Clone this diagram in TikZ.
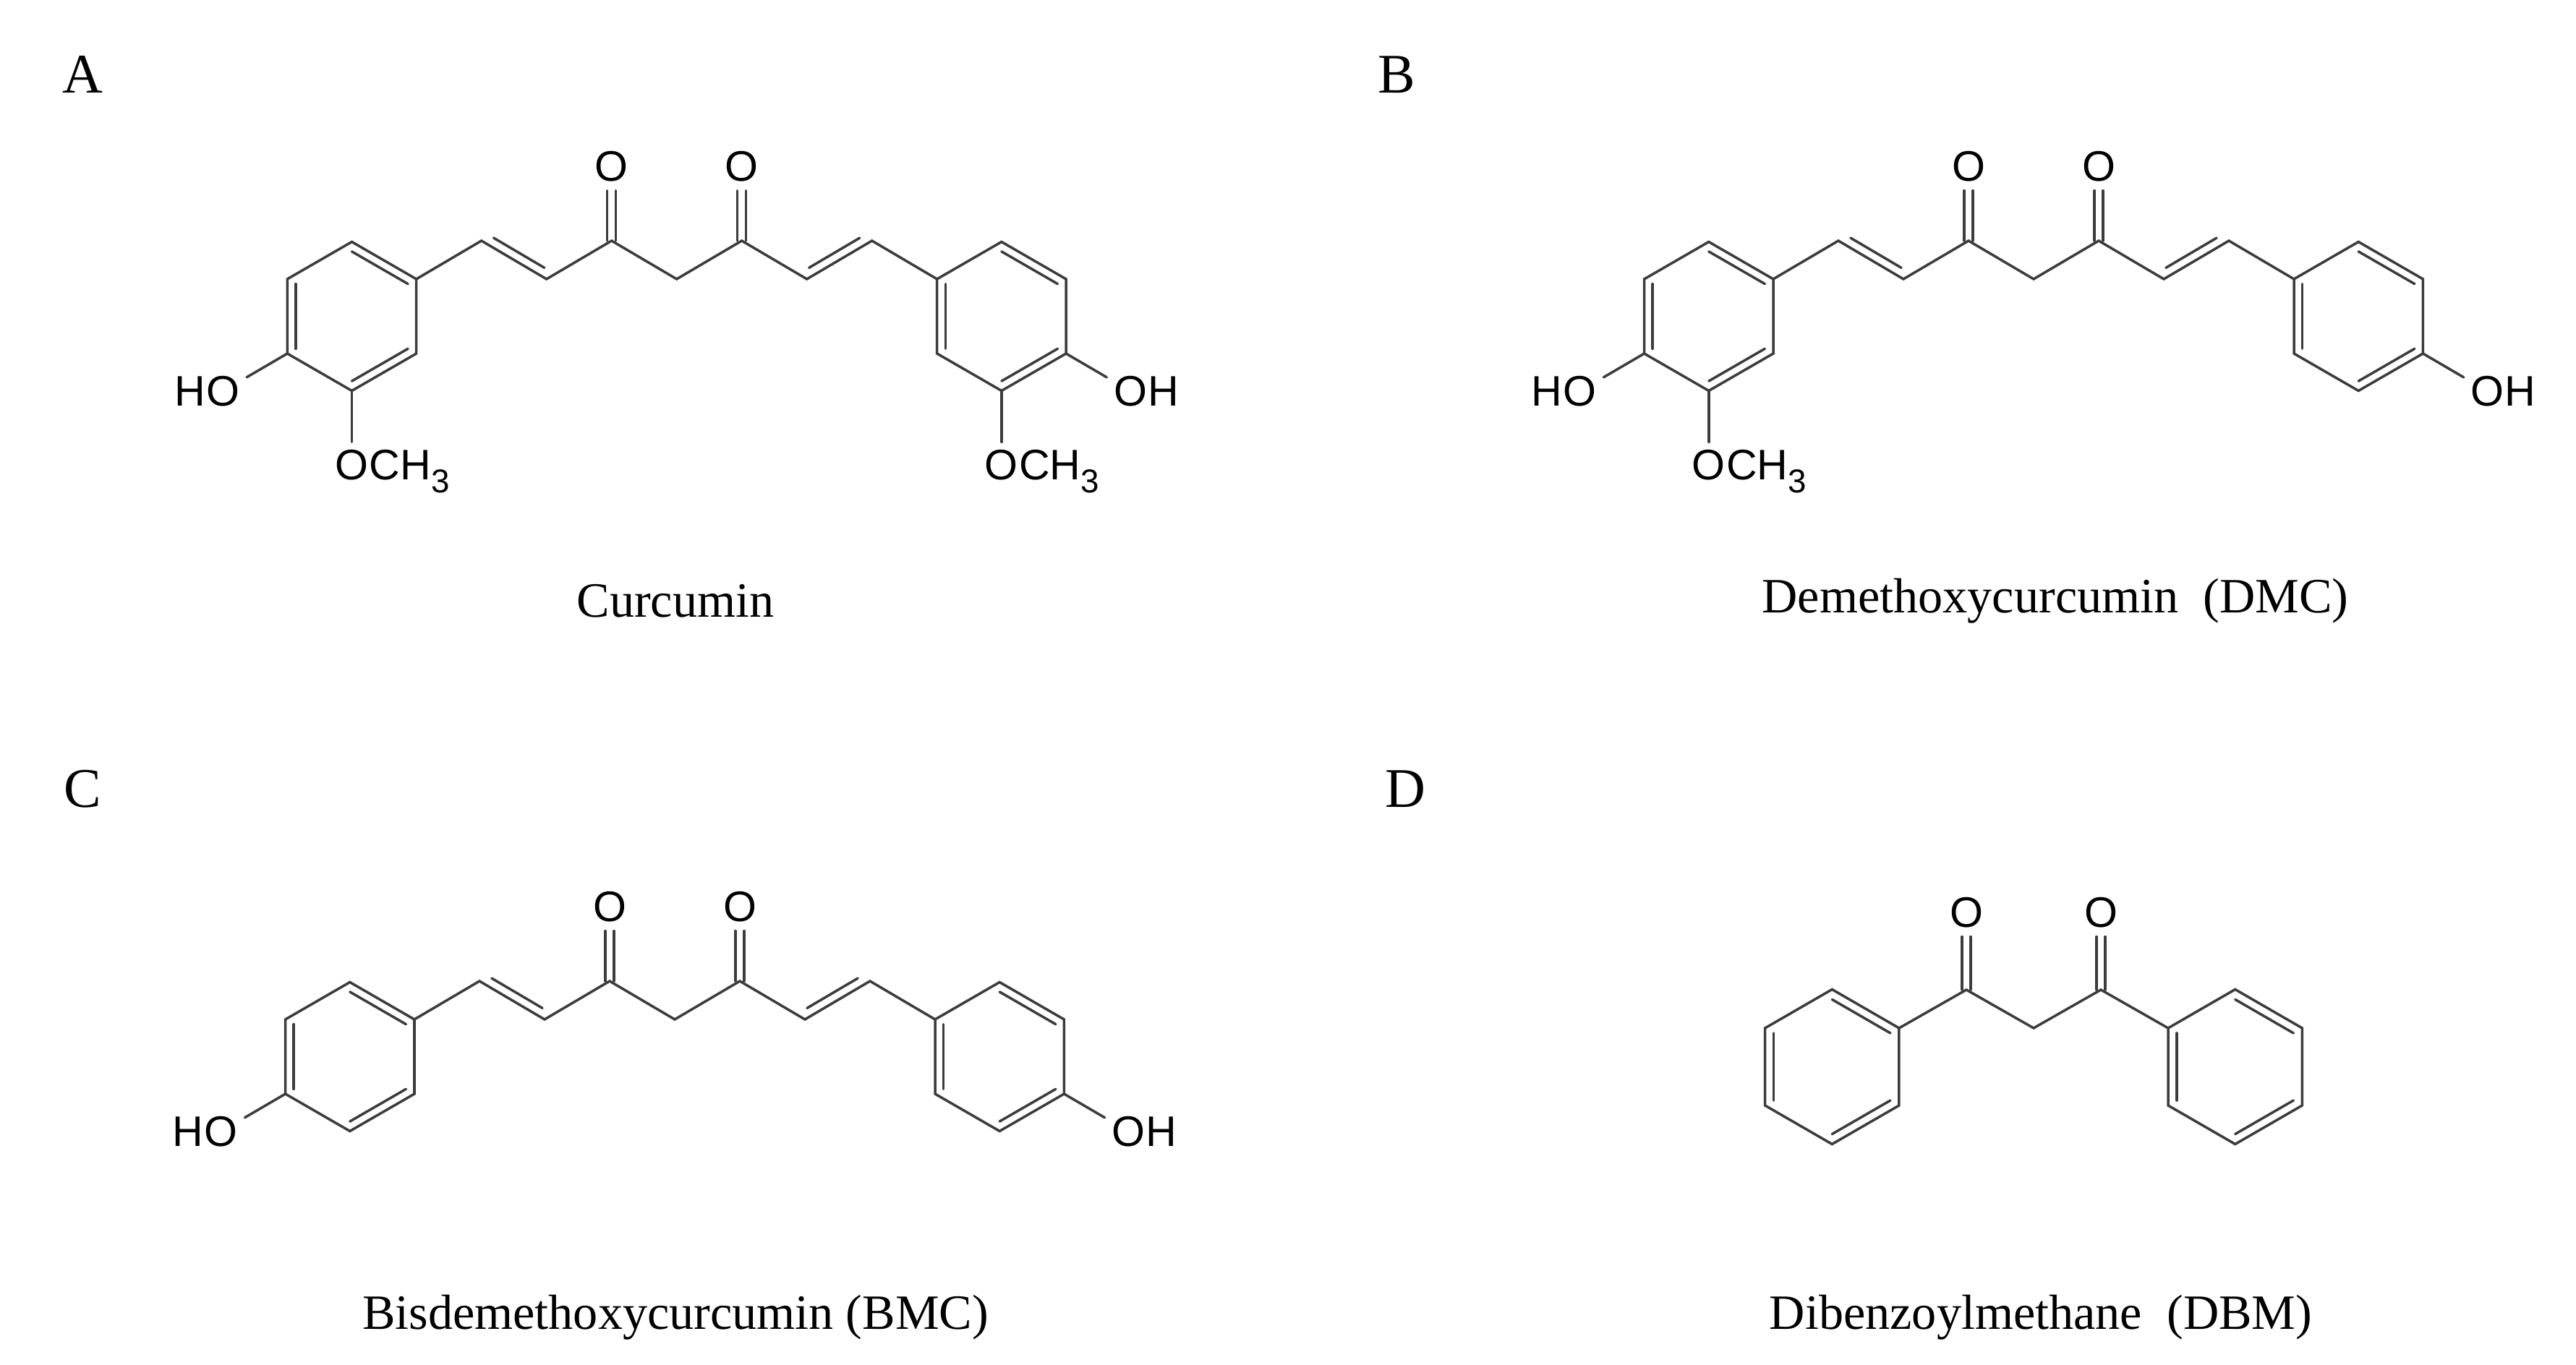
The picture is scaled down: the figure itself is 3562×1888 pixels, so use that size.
\documentclass[tikz,border=0pt]{standalone}
\usepackage{fontspec}
\setmainfont{Liberation Serif}
\newfontfamily\atomfont{Liberation Sans}
\usetikzlibrary{calc}
\definecolor{bondc}{HTML}{3C3C3C}
\tikzset{
  bond/.style={draw=bondc,line width=1pt,line cap=round,line join=miter},
  atom/.style={inner sep=0pt,font=\atomfont\fontsize{16.8}{18}\selectfont,text=black},
  lab/.style={inner sep=0pt,font=\fontsize{22}{24}\selectfont},
  captext/.style={inner sep=0pt,font=\fontsize{19.4}{22}\selectfont},
}
\newcommand\sub[1]{\raisebox{-0.3em}{\fontsize{13}{14}\selectfont #1}}
% ring: prefix, cx, cy, side
\newcommand\benz[4]{%
  \coordinate (#11) at (#2,#3-#4);
  \coordinate (#12) at (#2+0.866*#4,#3-0.5*#4);
  \coordinate (#13) at (#2+0.866*#4,#3+0.5*#4);
  \coordinate (#14) at (#2,#3+#4);
  \coordinate (#15) at (#2-0.866*#4,#3+0.5*#4);
  \coordinate (#16) at (#2-0.866*#4,#3-0.5*#4);
  \coordinate (#1c) at (#2,#3);
  \draw[bond] (#11)--(#12)--(#13)--(#14)--(#15)--(#16)--cycle;
  \draw[bond] ($(#11)!0.13!(#1c)$)--($(#12)!0.13!(#1c)$);
  \draw[bond] ($(#16)!0.13!(#1c)$)--($(#15)!0.13!(#1c)$);
  \draw[bond] ($(#13)!0.13!(#1c)$)--($(#14)!0.13!(#1c)$);
}
% curcuminoid chain: prefix, x, y of CH2
\newcommand\chain[3]{%
  \coordinate (#1m) at (#2,#3);
  \coordinate (#1c1) at (#2-90,#3-53);
  \coordinate (#1c2) at (#2+90,#3-53);
  \coordinate (#1a1) at (#2-180,#3);
  \coordinate (#1a2) at (#2+180,#3);
  \coordinate (#1b1) at (#2-270,#3-53);
  \coordinate (#1b2) at (#2+270,#3-53);
  \coordinate (#1r1) at (#2-360,#3);
  \coordinate (#1r2) at (#2+360,#3);
  \node[atom] (#1o1) at (#2-90,#3-156) {O};
  \node[atom] (#1o2) at (#2+90,#3-156) {O};
  \draw[bond] (#1r1)--(#1b1)--(#1a1)--(#1c1)--(#1m)--(#1c2)--(#1a2)--(#1b2)--(#1r2);
  \draw[bond] ($(#1c1)+(-6,0)$)--($(#1o1.south)+(-6,12)$);
  \draw[bond] ($(#1c1)+(6,0)$)--($(#1o1.south)+(6,12)$);
  \draw[bond] ($(#1c2)+(-6,0)$)--($(#1o2.south)+(-6,12)$);
  \draw[bond] ($(#1c2)+(6,0)$)--($(#1o2.south)+(6,12)$);
  \draw[bond] ($(#1b1)!0.12!(#1a1)+(6.1,-10.3)$)--($(#1b1)!0.9!(#1a1)+(6.1,-10.3)$);
  \draw[bond] ($(#1a2)!0.1!(#1b2)+(-6.1,-10.3)$)--($(#1a2)!0.88!(#1b2)+(-6.1,-10.3)$);
}
\newcommand\HOleft[2]{% prefix, ring prefix
  \node[atom] (#1) at ($(#25)+(-89,52)$) {O};
  \node[atom,anchor=base east] at (#1.base west) {H};
  \draw[bond,shorten >=3pt] (#25)--(#1);
}
\newcommand\OHright[2]{%
  \node[atom] (#1) at ($(#23)+(89,52)$) {O};
  \node[atom,anchor=base west] at (#1.base east) {H};
  \draw[bond,shorten >=3pt] (#23)--(#1);
}
\newcommand\OMe[2]{%
  \node[atom] (#1) at ($(#24)+(0,103)$) {O};
  \node[atom,anchor=base west] at (#1.base east) {CH\sub{3}};
  \draw[bond,shorten >=3pt] (#24)--(#1);
}
\begin{document}
\begin{tikzpicture}[x=0.01cm,y=-0.01cm]
\useasboundingbox (0,0) rectangle (3562,1888);
\fill[white] (0,0) rectangle (3562,1888);
% labels
\node[lab] (lA) at (114,103) {A};
\node[lab] (lB) at (1931,103) {B};
\node[lab] (lC) at (114,1091) {C};
\node[lab] (lD) at (1943,1091) {D};
% captions
\node[captext] (capA) at (934,831) {Curcumin};
\node[captext] (capB) at (2842,831) {Demethoxycurcumin\ \ (DMC)};
\node[captext] (capC) at (934,1822) {Bisdemethoxycurcumin (BMC)};
\node[captext] (capD) at (2822,1822) {Dibenzoylmethane\ \ (DBM)};
% A
\chain{A}{935.7}{386}
\benz{AL}{486.5}{437.5}{103}
\benz{AR}{1384.9}{437.5}{103}
\HOleft{Aho}{AL}\OMe{Aom1}{AL}
\OHright{Aoh}{AR}\OMe{Aom2}{AR}
% B
\chain{B}{2812}{386}
\benz{BL}{2362.8}{437.5}{103}
\benz{BR}{3261.2}{437.5}{103}
\HOleft{Bho}{BL}\OMe{Bom}{BL}
\OHright{Boh}{BR}
% C
\chain{C}{933}{1410}
\benz{CL}{483.8}{1461.5}{103}
\benz{CR}{1382.2}{1461.5}{103}
\HOleft{Cho}{CL}
\OHright{Coh}{CR}
% D
\coordinate (Dm) at (2812,1422);
\coordinate (Dc1) at (2719,1369);
\coordinate (Dc2) at (2905,1369);
\coordinate (Dr1) at (2626,1422);
\coordinate (Dr2) at (2998,1422);
\node[atom] (Do1) at (2719,1262) {O};
\node[atom] (Do2) at (2905,1262) {O};
\draw[bond] (Dr1)--(Dc1)--(Dm)--(Dc2)--(Dr2);
\draw[bond] ($(Dc1)+(-6,0)$)--($(Do1.south)+(-6,12)$);
\draw[bond] ($(Dc1)+(6,0)$)--($(Do1.south)+(6,12)$);
\draw[bond] ($(Dc2)+(-6,0)$)--($(Do2.south)+(-6,12)$);
\draw[bond] ($(Dc2)+(6,0)$)--($(Do2.south)+(6,12)$);
\benz{DL}{2533.3}{1475.5}{107}
\benz{DR}{3090.7}{1475.5}{107}
\end{tikzpicture}
\end{document}
